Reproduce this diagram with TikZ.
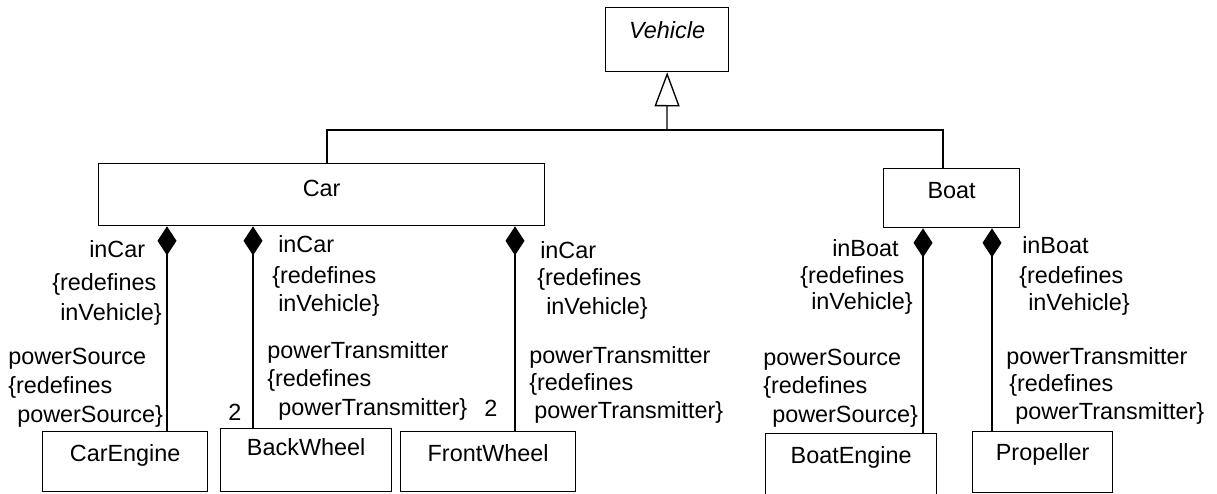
\documentclass[tikz,border=0pt]{standalone}
\usepackage{fontspec}
\setmainfont{Liberation Sans}
\usetikzlibrary{arrows.meta}
\newcommand\umlfont{\fontsize{17.55}{21}\selectfont}
\begin{document}
\begin{tikzpicture}[x=0.75pt,y=-0.75pt,
  every node/.style={font=\umlfont},
  cls/.style={draw,line width=1pt,inner sep=0pt,anchor=north west},
  lbl/.style={inner sep=0pt,anchor=base west},
  assoc/.style={line width=1pt},
  comp/.style={line width=1pt,-{Diamond[length=21.75pt,width=14.25pt]}},
  gen/.style={line width=1pt,-{Triangle[open,length=25.5pt,width=18.75pt]}}]
\useasboundingbox (0,0) rectangle (1217,493);

% classes
\node[cls,minimum width=92.25pt,text height=23.25pt,text depth=24.75pt] (Vehicle) at (605,7) {\itshape Vehicle};
\node[cls,minimum width=334.5pt,text height=24.75pt,text depth=21.75pt] (Car) at (98,163) {Car};
\node[cls,minimum width=102pt,text height=22.5pt,text depth=21.75pt] (Boat) at (883,168) {Boat};
\node[cls,minimum width=123.75pt,text height=22.5pt,text depth=22.5pt] (CarEngine) at (42,431) {CarEngine};
\node[cls,minimum width=128.25pt,text height=20.25pt,text depth=27pt] (BackWheel) at (220,428) {BackWheel};
\node[cls,minimum width=131.25pt,text height=22.5pt,text depth=22.5pt] (FrontWheel) at (400,431) {FrontWheel};
\node[cls,minimum width=128.25pt,text height=22.5pt,text depth=30pt] (BoatEngine) at (765,433) {BoatEngine};
\node[cls,minimum width=105pt,text height=21.75pt,text depth=24pt] (Propeller) at (972,431) {Propeller};

% x positions of the connectors
\coordinate (gc) at (327,0);
\coordinate (gb) at (943,0);
\coordinate (j) at (667,130);
\coordinate (k1) at (167,0);
\coordinate (k2) at (253,0);
\coordinate (k3) at (515,0);
\coordinate (k4) at (923,0);
\coordinate (k5) at (992,0);

% generalization
\draw[assoc] (Car.north -| gc) |- (j) -| (Boat.north -| gb);
\draw[gen] (j) -- (Vehicle.south);

% compositions
\draw[comp] (CarEngine.north -| k1) -- (Car.south -| k1);
\draw[comp] (BackWheel.north -| k2) -- (Car.south -| k2);
\draw[comp] (FrontWheel.north -| k3) -- (Car.south -| k3);
\draw[comp] (BoatEngine.north -| k4) -- (Boat.south -| k4);
\draw[comp] (Propeller.north -| k5) -- (Boat.south -| k5);

% CarEngine association ends
\node[lbl] (a1) at (89,257) {inCar};
\node[lbl] (a2) at (52,290) {\{redefines};
\node[lbl] (a3) at (60,320) {inVehicle\}};
\node[lbl] (b1) at (8,364) {powerSource};
\node[lbl] (b2) at (8,393) {\{redefines};
\node[lbl] (b3) at (17,422) {powerSource\}};

% BackWheel association ends
\node[lbl] (c1) at (278,252) {inCar};
\node[lbl] (c2) at (272,283) {\{redefines};
\node[lbl] (c3) at (278,311) {inVehicle\}};
\node[lbl] (d1) at (267,358) {powerTransmitter};
\node[lbl] (d2) at (267,386) {\{redefines};
\node[lbl] (d3) at (278,415) {powerTransmitter\}};
\node[lbl] (m1) at (228,420) {2};

% FrontWheel association ends
\node[lbl] (e1) at (540,258) {inCar};
\node[lbl] (e2) at (537,285) {\{redefines};
\node[lbl] (e3) at (546,314) {inVehicle\}};
\node[lbl] (f1) at (529,363) {powerTransmitter};
\node[lbl] (f2) at (529,390) {\{redefines};
\node[lbl] (f3) at (534,418) {powerTransmitter\}};
\node[lbl] (m2) at (484,416) {2};

% BoatEngine association ends
\node[lbl] (g1) at (832,256) {inBoat};
\node[lbl] (g2) at (800,283) {\{redefines};
\node[lbl] (g3) at (811,309) {inVehicle\}};
\node[lbl] (i1) at (763,365) {powerSource};
\node[lbl] (i2) at (763,393) {\{redefines};
\node[lbl] (i3) at (772,422) {powerSource\}};

% Propeller association ends
\node[lbl] (h1) at (1022,253) {inBoat};
\node[lbl] (h2) at (1019,283) {\{redefines};
\node[lbl] (h3) at (1028,310) {inVehicle\}};
\node[lbl] (p1) at (1006,364) {powerTransmitter};
\node[lbl] (p2) at (1009,391) {\{redefines};
\node[lbl] (p3) at (1015,419) {powerTransmitter\}};
\end{tikzpicture}
\end{document}
